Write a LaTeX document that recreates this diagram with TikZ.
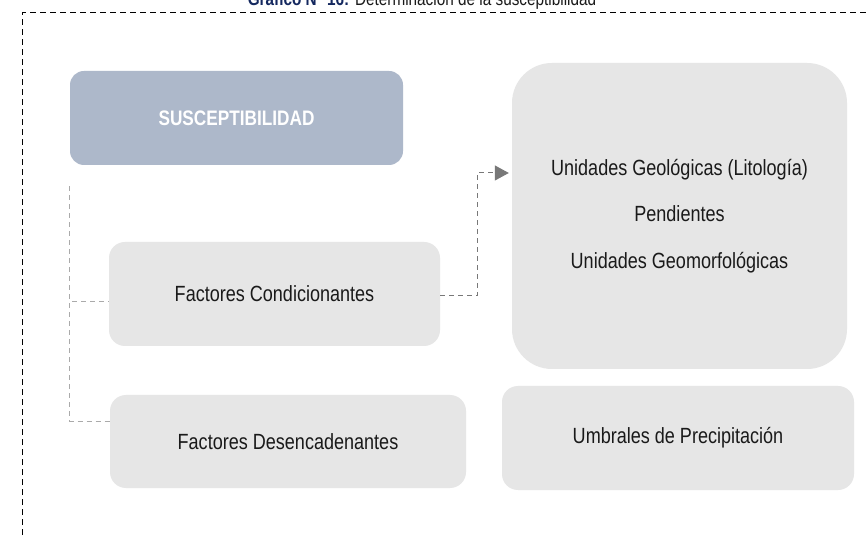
\documentclass[tikz,border=0pt]{standalone}
\usepackage{fontspec}
\setmainfont[FakeStretch=0.82]{Liberation Sans}
\usetikzlibrary{arrows.meta}
\begin{document}
\begin{tikzpicture}[x=1pt, y=1pt,
  caja/.style={fill=BoxGray, text=TextDark, rounded corners=16pt, align=center,
    font=\fontsize{22}{26}\selectfont, inner sep=0pt},
  guia/.style={draw=LineGray, line width=0.8pt, dash pattern=on 5pt off 4pt},
  flecha/.style={draw=ArrowGray, line width=1pt, dash pattern=on 5pt off 4pt,
    -{Triangle[length=14pt, width=15pt]}}]
\definecolor{BoxGray}{RGB}{230, 230, 230}
\definecolor{HeadBlue}{RGB}{173, 184, 202}
\definecolor{TextDark}{RGB}{26, 26, 26}
\definecolor{LineGray}{RGB}{170, 170, 170}
\definecolor{ArrowGray}{RGB}{120, 120, 120}
\definecolor{TitleBlue}{RGB}{20, 40, 95}
\useasboundingbox (0,0) rectangle (866,535);
\fill[white] (0,0) rectangle (866,535);
% marco
\draw[black, line width=1pt, dash pattern=on 6pt off 4pt] (22,0) -- (22,522) -- (866,522);
\node[anchor=base, font=\fontsize{18.7}{20}\selectfont, text=TextDark] (titulo) at (422,529)
  {{\color{TitleBlue}\bfseries Gráfico N° 16:} Determinación de la susceptibilidad};
% cajas
\node[caja, fill=HeadBlue, text=white, rounded corners=14pt, minimum width=333pt, minimum height=94pt,
  font=\fontsize{21}{24}\selectfont\bfseries] (susc) at (236.5,417) {SUSCEPTIBILIDAD};
\node[caja, minimum width=331pt, minimum height=104pt] (cond) at (274.5,241) {Factores Condicionantes};
\node[caja, minimum width=356pt, minimum height=93pt] (desen) at (288,93.5) {Factores Desencadenantes};
\node[caja, rounded corners=40pt, minimum width=335pt, minimum height=306pt,
  font=\fontsize{22}{46.5}\selectfont] (geo) at (679.5,319)
  {Unidades Geológicas (Litología)\\Pendientes\\Unidades Geomorfológicas};
\node[caja, minimum width=352pt, minimum height=104pt] (umbral) at (678,97) {Umbrales de Precipitación};
% conectores
\coordinate (inicio) at ([yshift=-21pt]susc.south west);
\draw[guia] (inicio) |- ([yshift=-7pt]cond.west);
\draw[guia] (inicio) |- ([yshift=20pt]desen.west);
\coordinate (codo) at (477,239);
\draw[flecha] ([yshift=-2pt]cond.east) -| (codo) |- ([xshift=-3pt, yshift=43pt]geo.west);
\end{tikzpicture}
\end{document}
